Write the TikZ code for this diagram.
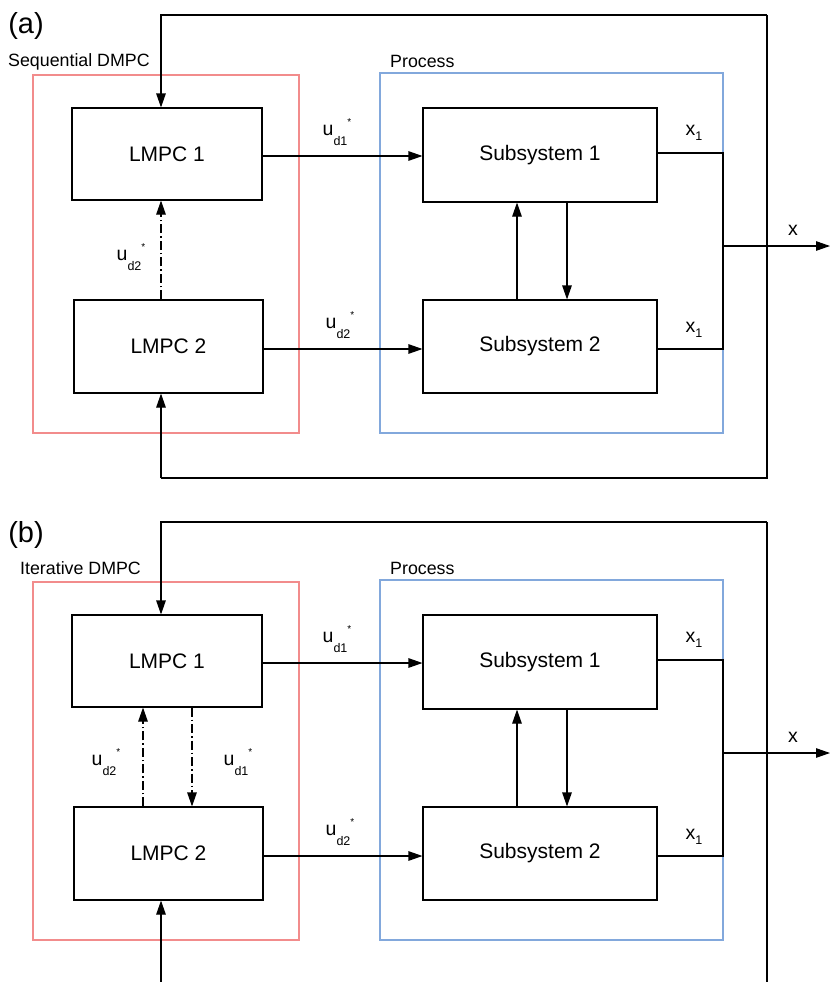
\documentclass[tikz,border=0pt]{standalone}
\usepackage{fontspec}
\setmainfont{Liberation Sans}
\usetikzlibrary{arrows.meta,calc}
\newcommand{\ulab}[1]{u\raisebox{-0.95ex}{\fontsize{12.5}{12.5}\selectfont d#1}\raisebox{1.0ex}{\fontsize{10}{10}\selectfont *}}
\newcommand{\xlab}{x\raisebox{-0.55ex}{\fontsize{12.5}{12.5}\selectfont 1}}
\begin{document}
\begin{tikzpicture}[x=1pt,y=-1pt,
  blk/.style={draw=black,line width=1.1pt,inner sep=0pt,font=\fontsize{21}{21}\selectfont},
  lbl/.style={inner sep=0pt,font=\fontsize{17.8}{17.8}\selectfont},
  sym/.style={inner sep=0pt,font=\fontsize{19.5}{19.5}\selectfont},
  big/.style={inner sep=0pt,font=\fontsize{29}{29}\selectfont},
  wire/.style={draw=black,line width=1.1pt},
  arr/.style={wire,-{Triangle[length=14pt,width=9.5pt]}},
  dda/.style={arr,dash pattern=on 9pt off 3pt on 1.5pt off 3pt},
  redbox/.style={draw={rgb,255:red,242;green,140;blue,140},line width=1.1pt},
  bluebox/.style={draw={rgb,255:red,130;green,168;blue,220},line width=1.1pt}]
\useasboundingbox (0,0) rectangle (830,982);

% ---------------- panel (a) ----------------
\node[big] (pa) at (26,26) {(a)};
\node[lbl,anchor=west] (seq) at (8,62) {Sequential DMPC};
\node[lbl,anchor=west] (proca) at (390,61) {Process};
\draw[redbox] (33,75) rectangle (299,433);
\draw[bluebox] (380,73) rectangle (723,433);
\node[blk,minimum width=190pt,minimum height=92pt] (L1a) at (167,154) {LMPC 1};
\node[blk,minimum width=189pt,minimum height=93pt] (L2a) at (168.5,346.5) {LMPC 2};
\node[blk,minimum width=234pt,minimum height=94pt] (S1a) at (540,155) {Subsystem 1};
\node[blk,minimum width=234pt,minimum height=93pt] (S2a) at (540,346.5) {Subsystem 2};
\coordinate (TLa) at (161,15);
\coordinate (TRa) at (767,15);
\coordinate (BRa) at (767,478);
\coordinate (BLa) at (161,478);
\coordinate (Ja) at (723,246);
\coordinate (Xa) at (830,246);
\draw[arr] (TRa) -- (TLa) -- (TLa |- L1a.north);
\draw[wire] (TRa) -- (BRa) -- (BLa);
\draw[arr] (BLa) -- (BLa |- L2a.south);
\draw[arr] (L1a.east |- 0,156) -- (S1a.west |- 0,156);
\draw[arr] (L2a.east |- 0,349) -- (S2a.west |- 0,349);
\draw[dda] (L2a.north -| TLa) -- (L1a.south -| TLa);
\draw[arr] ($(S2a.north)+(-23,0)$) -- ($(S1a.south)+(-23,0)$);
\draw[arr] ($(S1a.south)+(27,0)$) -- ($(S2a.north)+(27,0)$);
\draw[wire] (S1a.east |- 0,153) -| (Ja);
\draw[wire] (S2a.east |- 0,349) -| (Ja);
\draw[arr] (Ja) -- (Xa);
\node[sym] (u1a) at (337,132) {\ulab{1}};
\node[sym] (u2a) at (340,325) {\ulab{2}};
\node[sym] (u3a) at (131,257) {\ulab{2}};
\node[sym] (x1a) at (694,133) {\xlab};
\node[sym] (x2a) at (694,330) {\xlab};
\node[sym] (xa) at (793,230) {x};

% ---------------- panel (b) ----------------
\node[big] (pb) at (26,535) {(b)};
\node[lbl,anchor=west] (ite) at (20,568) {Iterative DMPC};
\node[lbl,anchor=west] (procb) at (390,568) {Process};
\draw[redbox] (33,582) rectangle (299,940);
\draw[bluebox] (380,580) rectangle (723,940);
\node[blk,minimum width=190pt,minimum height=92pt] (L1b) at (167,661) {LMPC 1};
\node[blk,minimum width=189pt,minimum height=93pt] (L2b) at (168.5,853.5) {LMPC 2};
\node[blk,minimum width=234pt,minimum height=94pt] (S1b) at (540,662) {Subsystem 1};
\node[blk,minimum width=234pt,minimum height=93pt] (S2b) at (540,853.5) {Subsystem 2};
\coordinate (TLb) at (161,522);
\coordinate (TRb) at (767,522);
\coordinate (BRb) at (767,982);
\coordinate (BLb) at (161,982);
\coordinate (Jb) at (723,753);
\coordinate (Xb) at (830,753);
\draw[arr] (TRb) -- (TLb) -- (TLb |- L1b.north);
\draw[wire] (TRb) -- (BRb);
\draw[arr] (BLb) -- (BLb |- L2b.south);
\draw[arr] (L1b.east |- 0,663) -- (S1b.west |- 0,663);
\draw[arr] (L2b.east |- 0,856) -- (S2b.west |- 0,856);
\draw[dda] (L2b.north -| 143,0) -- (L1b.south -| 143,0);
\draw[dda] (L1b.south -| 192,0) -- (L2b.north -| 192,0);
\draw[arr] ($(S2b.north)+(-23,0)$) -- ($(S1b.south)+(-23,0)$);
\draw[arr] ($(S1b.south)+(27,0)$) -- ($(S2b.north)+(27,0)$);
\draw[wire] (S1b.east |- 0,660) -| (Jb);
\draw[wire] (S2b.east |- 0,856) -| (Jb);
\draw[arr] (Jb) -- (Xb);
\node[sym] (u1b) at (337,639) {\ulab{1}};
\node[sym] (u2b) at (340,832) {\ulab{2}};
\node[sym] (u3b) at (106,762) {\ulab{2}};
\node[sym] (u4b) at (238,762) {\ulab{1}};
\node[sym] (x1b) at (694,640) {\xlab};
\node[sym] (x2b) at (694,837) {\xlab};
\node[sym] (xb) at (793,737) {x};
\end{tikzpicture}
\end{document}
